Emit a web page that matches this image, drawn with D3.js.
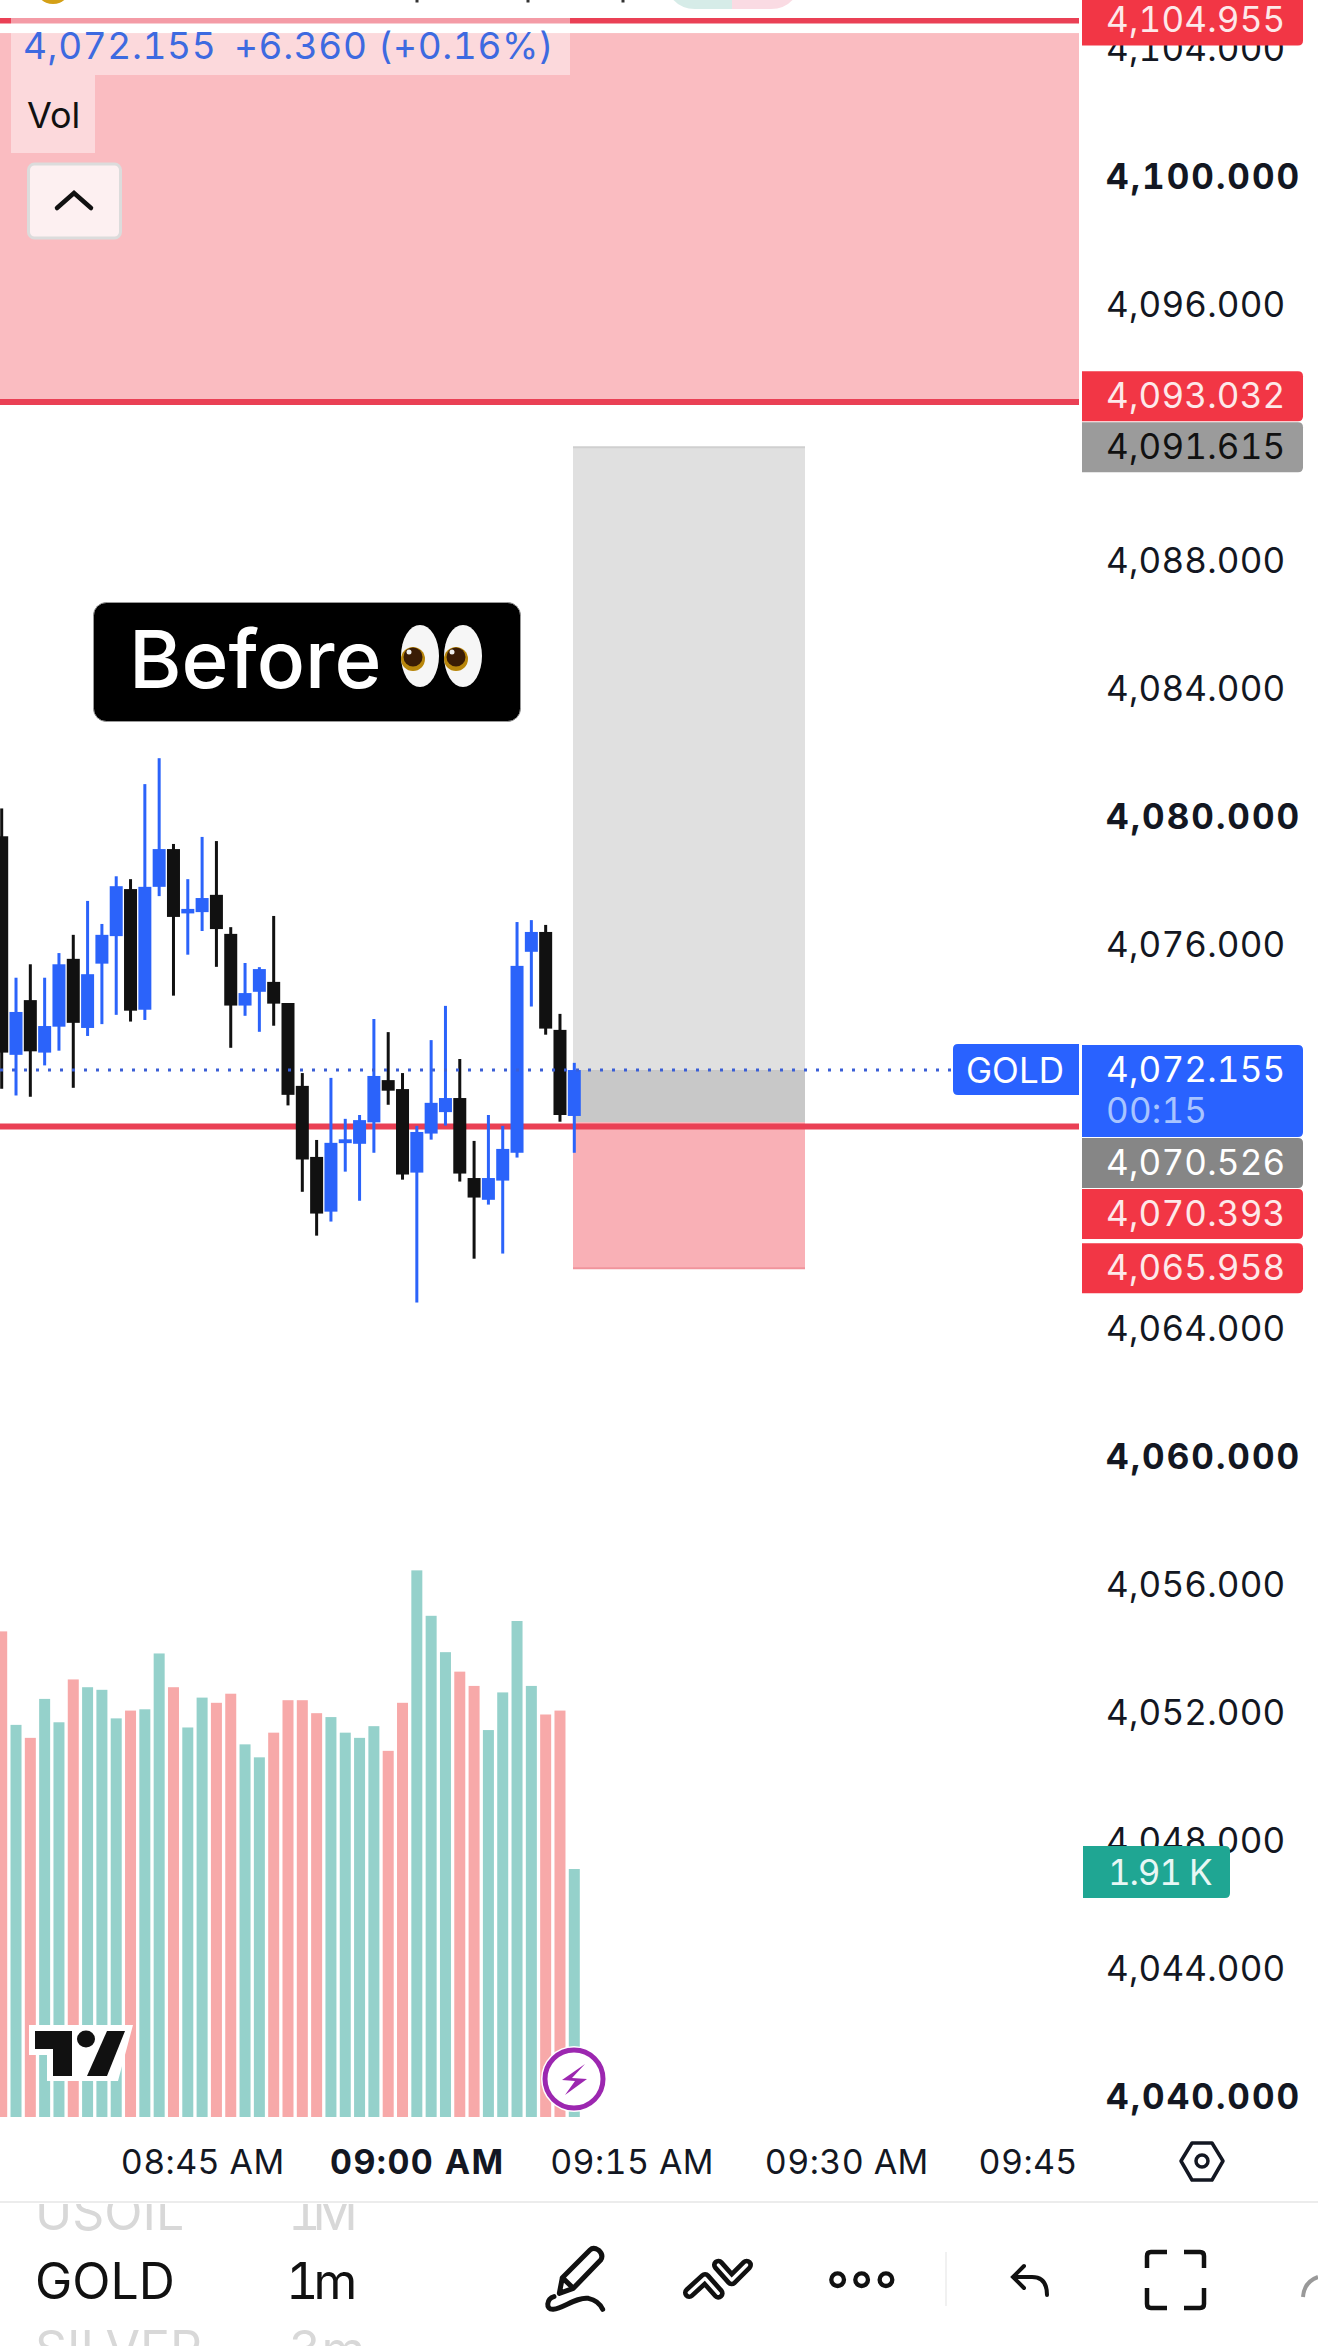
<!DOCTYPE html>
<html>
<head>
<meta charset="utf-8">
<style>
  html, body { margin: 0; padding: 0; background: #fff; }
  svg { display: block; }
  text { font-family: Inter, "Noto Sans", sans-serif; font-feature-settings: "tnum" 1; }
</style>
</head>
<body>
<div id="chart"></div>
<script src="https://d3js.org/d3.v7.min.js"></script>
<script>
// candles, one a minute starting at 08:31
var opens = [4079.46,4072.63,4074.34,4072.70,4073.51,4075.63,4073.47,4075.48,4076.34,4077.81,4074.04,4077.88,4079.06,4077.05,4077.09,4077.63,4076.41,4074.17,4074.60,4074.91,4074.25,4071.66,4069.44,4067.73,4069.87,4069.85,4070.52,4071.84,4071.56,4068.95,4070.17,4070.84,4071.28,4068.78,4068.10,4068.70,4069.57,4075.85,4076.47,4073.41,4070.72];
var highs = [4080.33,4075.04,4075.46,4075.04,4075.81,4076.38,4077.44,4076.72,4078.21,4078.12,4081.09,4081.90,4079.22,4078.12,4079.44,4079.31,4076.62,4075.50,4075.37,4076.97,4074.25,4072.06,4069.97,4071.91,4070.63,4070.75,4073.75,4073.34,4072.06,4070.41,4073.09,4074.16,4072.50,4069.94,4070.75,4070.41,4076.78,4076.84,4076.69,4073.91,4072.38];
var lows = [4071.57,4071.36,4071.32,4072.30,4072.76,4071.60,4073.22,4073.59,4073.88,4073.67,4073.72,4077.59,4074.48,4075.76,4076.50,4075.38,4072.85,4073.85,4073.35,4073.54,4071.05,4068.35,4066.98,4067.42,4068.98,4068.07,4069.57,4071.07,4068.73,4064.89,4069.98,4070.42,4068.67,4066.26,4067.95,4066.42,4069.42,4074.14,4073.26,4070.54,4069.57];
var closes = [4072.70,4073.97,4072.74,4073.53,4075.46,4073.63,4075.15,4076.38,4077.90,4074.01,4077.88,4079.06,4076.94,4077.19,4077.53,4076.56,4074.17,4074.56,4075.31,4074.23,4071.38,4069.36,4067.67,4069.88,4069.99,4070.59,4071.97,4071.51,4068.89,4070.22,4071.13,4071.28,4068.92,4068.17,4068.78,4069.69,4075.41,4076.47,4073.45,4070.75,4072.155];
// volume in thousands
var volumes = [3.74,3.02,2.92,3.22,3.04,3.37,3.31,3.29,3.07,3.13,3.14,3.57,3.31,3.00,3.23,3.19,3.26,2.87,2.77,2.96,3.21,3.21,3.11,3.08,2.96,2.92,3.01,2.82,3.19,4.21,3.86,3.58,3.43,3.32,2.98,3.27,3.82,3.32,3.10,3.13,1.91];

var priceTicks = [4104,4100,4096,4092,4088,4084,4080,4076,4072,4068,4064,4060,4056,4052,4048,4044,4040];
var boldTicks = [4100,4080,4060,4040];
var hiddenTicks = [4092,4072,4068]; // sit under the price tags
var timeTicks = [[8,45],[9,0],[9,15],[9,30],[9,45]];
var timeLabels = ["08:45 AM","09:00 AM","09:15 AM","09:30 AM","09:45"];

var currentPrice = 4072.155;
var resistanceTop = 4104.955;
var resistanceBottom = 4093.032;
var resistanceZoneTop = 4104.56;
var supportLine = 4070.393;
var positionTop = 4091.615;
var positionEntry = 4070.526;
var positionStop = 4065.958;

// tags on the price axis, top to bottom
var tagPrices = [4104.955,4093.032,4091.615,4072.155,4070.526,4070.393,4065.958];
var tagColors = ["#f23645","#f23645","#9b9b9b","#2962ff","#868686","#f23645","#f23645"];
var tagText = ["#fde9ea","#fde9ea","#111111","#ffffff","#ffffff","#fde9ea","#fde9ea"];

var width = 1318, height = 2346;
var paneRight = 1079;

var svg = d3.select("#chart").append("svg")
  .attr("width", width).attr("height", height);

var defs = svg.append("defs");
defs.append("clipPath").attr("id", "pane").append("rect")
  .attr("x", 0).attr("y", 18).attr("width", paneRight).attr("height", 2099);
defs.append("clipPath").attr("id", "bottombar").append("rect")
  .attr("x", 0).attr("y", 2204).attr("width", width).attr("height", 142);

function minute(h, m) { return new Date(2025, 0, 6, h, m); }
function candleTime(i) { return minute(8, 31 + i); }

var x = d3.scaleTime().domain([minute(8, 31), minute(9, 45)]).range([1.7, 1061]);
var y = d3.scaleLinear().domain([4040, 4100]).range([2099, 179]);
var yVol = d3.scaleLinear().domain([0, 1.91]).range([2117, 1869]);

var idx = d3.range(opens.length);
var pane = svg.append("g").attr("clip-path", "url(#pane)");

// red zone on top
pane.append("rect").attr("x", 0).attr("width", paneRight)
  .attr("y", y(resistanceZoneTop))
  .attr("height", y(resistanceBottom) - y(resistanceZoneTop))
  .attr("fill", "#fabcc1");

// position box
var boxX = 573, boxW = 232;
pane.append("rect").attr("x", boxX).attr("width", boxW)
  .attr("y", y(positionTop)).attr("height", y(positionEntry) - y(positionTop))
  .attr("fill", "#e0e0e0");
pane.append("rect").attr("x", boxX).attr("width", boxW)
  .attr("y", y(currentPrice)).attr("height", y(positionEntry) - y(currentPrice))
  .attr("fill", "#c8c8c8");
pane.append("rect").attr("x", boxX).attr("width", boxW)
  .attr("y", y(positionEntry)).attr("height", y(positionStop) - y(positionEntry))
  .attr("fill", "#f9b0b6");
pane.append("line").attr("x1", boxX).attr("x2", boxX + boxW)
  .attr("y1", y(positionStop)).attr("y2", y(positionStop))
  .attr("stroke", "#f0949c").attr("stroke-width", 2);
pane.append("line").attr("x1", boxX).attr("x2", boxX + boxW)
  .attr("y1", y(positionTop)).attr("y2", y(positionTop))
  .attr("stroke", "#cfcfcf").attr("stroke-width", 2);

// volume
pane.selectAll("rect.vol").data(idx).enter().append("rect")
  .attr("class", "vol")
  .attr("x", function(i) { return x(candleTime(i)) - 5.5; })
  .attr("width", 11)
  .attr("y", function(i) { return yVol(volumes[i]); })
  .attr("height", function(i) { return yVol(0) - yVol(volumes[i]); })
  .attr("fill", function(i) { return closes[i] >= opens[i] ? "#95d1cb" : "#f7a9a9"; });

// red lines
[resistanceTop, resistanceBottom, supportLine].forEach(function(p) {
  pane.append("line").attr("x1", 0).attr("x2", paneRight)
    .attr("y1", y(p)).attr("y2", y(p))
    .attr("stroke", "#ea4055").attr("stroke-width", 6);
});

// candles
var up = "#2b63fa", down = "#111111";
pane.selectAll("rect.wick").data(idx).enter().append("rect")
  .attr("class", "wick")
  .attr("x", function(i) { return x(candleTime(i)) - 1.5; })
  .attr("width", 3)
  .attr("y", function(i) { return y(highs[i]); })
  .attr("height", function(i) { return y(lows[i]) - y(highs[i]); })
  .attr("fill", function(i) { return closes[i] >= opens[i] ? up : down; });
pane.selectAll("rect.body").data(idx).enter().append("rect")
  .attr("class", "body")
  .attr("x", function(i) { return x(candleTime(i)) - 6.5; })
  .attr("width", 13)
  .attr("y", function(i) { return y(Math.max(opens[i], closes[i])); })
  .attr("height", function(i) { return Math.abs(y(opens[i]) - y(closes[i])); })
  .attr("fill", function(i) { return closes[i] >= opens[i] ? up : down; });

// last price dotted line
pane.append("line").attr("x1", 0).attr("x2", 953)
  .attr("y1", y(currentPrice)).attr("y2", y(currentPrice))
  .attr("stroke", "#3a5fd6").attr("stroke-width", 3)
  .attr("stroke-dasharray", "3 9");

// legend over the chart
svg.append("rect").attr("x", 11).attr("y", 18).attr("width", 559).attr("height", 6)
  .attr("fill", "#fff").attr("fill-opacity", 0.48);
svg.append("rect").attr("x", 0).attr("y", 24).attr("width", paneRight).attr("height", 9)
  .attr("fill", "#fff");
svg.append("rect").attr("x", 11).attr("y", 33).attr("width", 559).attr("height", 42)
  .attr("fill", "#fff").attr("fill-opacity", 0.43);
svg.append("rect").attr("x", 11).attr("y", 75).attr("width", 84).attr("height", 78)
  .attr("fill", "#fff").attr("fill-opacity", 0.43);
svg.append("text").attr("x", 23).attr("y", 46).attr("dy", ".36em")
  .attr("font-size", 37).attr("letter-spacing", 0.6).attr("fill", "#3d6ae0").text("4,072.155");
svg.append("text").attr("x", 234).attr("y", 46).attr("dy", ".36em")
  .attr("font-size", 37).attr("letter-spacing", 0.6).attr("fill", "#3d6ae0").text("+6.360 (+0.16%)");
svg.append("text").attr("x", 27).attr("y", 115).attr("dy", ".36em")
  .attr("font-size", 36).attr("fill", "#111").text("Vol");
svg.append("rect").attr("x", 28.5).attr("y", 164).attr("width", 92).attr("height", 74).attr("rx", 6)
  .attr("fill", "#fdf0f1").attr("stroke", "#dcdcdc").attr("stroke-width", 3);
svg.append("path").attr("d", "M57,208L74,193L91,208")
  .attr("fill", "none").attr("stroke", "#111").attr("stroke-width", 4.5).attr("stroke-linecap", "round");

// what is left of the header at the top edge
svg.append("circle").attr("cx", 53).attr("cy", -14).attr("r", 18).attr("fill", "#d4a017");
svg.append("path").attr("d", "M669,-20H732V9H695Q678,9 669,-6Z").attr("fill", "#d6ece8");
svg.append("path").attr("d", "M732,-20H797V-6Q788,9 771,9H732Z").attr("fill", "#fadbe3");
[417, 528, 623].forEach(function(px) {
  svg.append("rect").attr("x", px - 1.5).attr("y", 0).attr("width", 3).attr("height", 2.5).attr("fill", "#333");
});

// Before box
svg.append("rect").attr("x", 93.5).attr("y", 602.5).attr("width", 427).attr("height", 119).attr("rx", 13)
  .attr("fill", "#000").attr("stroke", "#999").attr("stroke-width", 1);
svg.append("text").attr("x", 129).attr("y", 688)
  .attr("font-size", 80).attr("font-weight", 500).attr("fill", "#fff").text("Before");
[420, 463].forEach(function(ex) {
  svg.append("ellipse").attr("cx", ex).attr("cy", 656).attr("rx", 19).attr("ry", 31).attr("fill", "#f6f6f6");
  svg.append("circle").attr("cx", ex - 7).attr("cy", 659).attr("r", 12).attr("fill", "#b8860b");
  svg.append("circle").attr("cx", ex - 7).attr("cy", 657).attr("r", 9.5).attr("fill", "#3a1c05");
  svg.append("circle").attr("cx", ex - 11).attr("cy", 652).attr("r", 2.5).attr("fill", "#eee");
});

// lightning button
svg.append("circle").attr("cx", 574).attr("cy", 2079).attr("r", 33).attr("fill", "#fff");
svg.append("circle").attr("cx", 574).attr("cy", 2079).attr("r", 29).attr("fill", "#fff")
  .attr("stroke", "#9c27b0").attr("stroke-width", 5);
svg.append("path").attr("d", "M585,2064L562,2080L575,2081L565,2095L587,2079L572,2078Z").attr("fill", "#9c27b0");

// tradingview mark
svg.append("path").attr("d", "M29,2025H133L118,2081H47V2055H29Z").attr("fill", "#fff");
svg.append("path").attr("d", "M35,2031H72V2076H53V2049H35Z").attr("fill", "#111");
svg.append("ellipse").attr("cx", 86).attr("cy", 2039).attr("rx", 9).attr("ry", 8.5).attr("fill", "#111");
svg.append("path").attr("d", "M107,2031H125L107,2076H87Z").attr("fill", "#111");

// price axis
var yAxis = d3.axisRight(y)
  .tickValues(priceTicks.filter(function(t) { return hiddenTicks.indexOf(t) < 0; }))
  .tickSize(0).tickPadding(0)
  .tickFormat(d3.format(",.3f"));
var yg = svg.append("g").attr("transform", "translate(1106,0)").call(yAxis);
yg.select(".domain").remove();
yg.selectAll("text")
  .attr("y", -2)
  .attr("font-family", "Inter, 'Noto Sans', sans-serif")
  .attr("font-size", 35)
  .attr("fill", "#131722")
  .attr("letter-spacing", function(t) { return boldTicks.indexOf(t) >= 0 ? 2 : 0.2; })
  .attr("font-weight", function(t) { return boldTicks.indexOf(t) >= 0 ? 700 : 400; });

// tags: one stays above the position tag, the rest push down when they collide
var tags = tagPrices.map(function(p, i) {
  var h = p === currentPrice ? 93 : 51;
  return { price: p, top: y(p) - 25, h: h, fill: tagColors[i], color: tagText[i] };
});
tags.forEach(function(t, i) {
  if (i === 0) return;
  var prev = tags[i - 1];
  if (t.top < prev.top + prev.h) {
    if (i === 2) prev.top = t.top - prev.h;
    else t.top = prev.top + prev.h;
  }
});
function tagPath(px, top, w, h, r) {
  return "M" + px + "," + top + "H" + (px + w - r) + "Q" + (px + w) + "," + top + " " + (px + w) + "," + (top + r) +
    "V" + (top + h - r) + "Q" + (px + w) + "," + (top + h) + " " + (px + w - r) + "," + (top + h) + "H" + px + "Z";
}
tags.forEach(function(t) {
  svg.append("path").attr("d", tagPath(1082, t.top, 221, t.h - 1, 5)).attr("fill", t.fill);
  svg.append("text").attr("x", 1106).attr("y", t.top + 24).attr("dy", ".36em")
    .attr("font-size", 35).attr("letter-spacing", 0.2).attr("fill", t.color).text(d3.format(",.3f")(t.price));
  if (t.price === currentPrice) {
    svg.append("text").attr("x", 1106).attr("y", t.top + 65).attr("dy", ".36em")
      .attr("font-size", 35).attr("letter-spacing", 0.2).attr("fill", "#a8c4ff").text("00:15");
  }
});

// symbol tag
svg.append("path").attr("d", "M1079,1044H958Q953,1044 953,1049V1090Q953,1095 958,1095H1079Z").attr("fill", "#2962ff");
svg.append("text").attr("x", 966).attr("y", 1070).attr("dy", ".36em")
  .attr("font-size", 35).attr("fill", "#fff").text("GOLD");

// volume tag
svg.append("path").attr("d", tagPath(1083, yVol(1.91) - 23, 147, 52, 5)).attr("fill", "#1fa693");
svg.append("text").attr("x", 1108).attr("y", yVol(1.91) + 3).attr("dy", ".36em")
  .attr("font-size", 35).attr("letter-spacing", -1.2).attr("fill", "#e8f7f5").text("1.91 K");

// time axis
var xAxis = d3.axisBottom(x)
  .tickValues(timeTicks.map(function(t) { return minute(t[0], t[1]); }))
  .tickSize(0).tickPadding(0)
  .tickFormat(function(d, i) { return timeLabels[i]; });
var xg = svg.append("g").attr("transform", "translate(0,2162)").call(xAxis);
xg.select(".domain").remove();
xg.selectAll("text")
  .attr("y", 0).attr("dy", ".36em")
  .attr("font-family", "Inter, 'Noto Sans', sans-serif")
  .attr("font-size", 34)
  .attr("fill", "#131722")
  .attr("letter-spacing", function(d, i) { return timeLabels[i] === "09:00 AM" ? 1.4 : 0.4; })
  .attr("font-weight", function(d, i) { return timeLabels[i] === "09:00 AM" ? 700 : 400; })
  .each(function(d, i) {
    // last label is cut by the pane edge, keep its left side where it was
    if (i === timeLabels.length - 1) d3.select(this).attr("text-anchor", "start").attr("x", -83);
  });

svg.append("path").attr("d", "M1181,2161L1192,2143H1212L1223,2161L1212,2180H1192Z")
  .attr("fill", "none").attr("stroke", "#131722").attr("stroke-width", 3.5).attr("stroke-linejoin", "round");
svg.append("circle").attr("cx", 1202).attr("cy", 2161).attr("r", 6)
  .attr("fill", "none").attr("stroke", "#131722").attr("stroke-width", 3.5);

svg.append("line").attr("x1", 0).attr("x2", width).attr("y1", 2202).attr("y2", 2202)
  .attr("stroke", "#ececec").attr("stroke-width", 2);

// bottom toolbar
var bar = svg.append("g").attr("clip-path", "url(#bottombar)");
function barText(px, base, txt, color, spacing) {
  bar.append("text").attr("x", px).attr("y", base)
    .attr("font-size", 50).attr("letter-spacing", spacing || 0).attr("fill", color).text(txt);
}
barText(35, 2230, "USOIL", "#d8d8d8");
barText(288, 2230, "1M", "#d8d8d8", -8);
barText(35, 2299, "GOLD", "#111");
barText(286, 2299, "1m", "#111", -5);
barText(35, 2367, "SILVER", "#d8d8d8");
barText(289, 2367, "3m", "#d8d8d8");

var icons = svg.append("g").attr("transform", "translate(530,2230) scale(0.3333)")
  .attr("fill", "none").attr("stroke", "#111").attr("stroke-linecap", "round").attr("stroke-linejoin", "round");
icons.append("path").attr("stroke-width", 15)
  .attr("d", "M88,190L97,143L180,60Q190,50 205,60Q222,75 212,90L130,175ZM97,143L130,175");
icons.append("path").attr("stroke-width", 15)
  .attr("d", "M72,200C50,205 45,240 70,238C100,235 140,200 175,205C200,210 212,225 218,238");
[[[478, 188], [525, 145], [565, 190]], [[565, 105], [605, 150], [650, 105]]].forEach(function(pts) {
  var d = "M" + pts.join("L");
  icons.append("path").attr("d", d).attr("stroke-width", 38);
  icons.append("path").attr("d", d).attr("stroke-width", 10).attr("stroke", "#fff");
});
[923, 995, 1068].forEach(function(cx) {
  icons.append("circle").attr("cx", cx).attr("cy", 149).attr("r", 19).attr("stroke-width", 13);
});

svg.append("line").attr("x1", 946).attr("x2", 946).attr("y1", 2252).attr("y2", 2306)
  .attr("stroke", "#ececec").attr("stroke-width", 1.5);
svg.append("path").attr("d", "M1024,2266L1013,2277L1024,2288M1013,2277H1032Q1047,2277 1047,2295")
  .attr("fill", "none").attr("stroke", "#111").attr("stroke-width", 4).attr("stroke-linecap", "round");
svg.append("path")
  .attr("d", "M1147,2268V2256Q1147,2252 1151,2252H1167M1184,2252H1200Q1204,2252 1204,2256V2268M1147,2288V2304Q1147,2308 1151,2308H1167M1184,2308H1200Q1204,2308 1204,2304V2288")
  .attr("fill", "none").attr("stroke", "#111").attr("stroke-width", 4.5);
svg.append("path").attr("d", "M1303,2297Q1304,2282 1318,2277")
  .attr("fill", "none").attr("stroke", "#999").attr("stroke-width", 4);
</script>
</body>
</html>
